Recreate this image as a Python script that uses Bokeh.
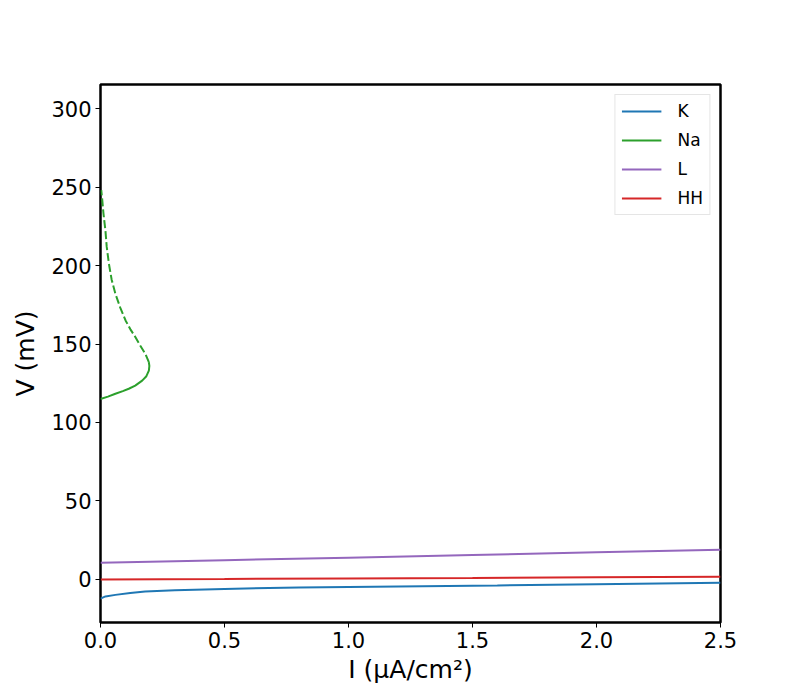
from bokeh.plotting import figure
from bokeh.models import Range1d, FixedTicker, Legend, LegendItem
from bokeh.embed import file_html
from bokeh.resources import INLINE

# K curve
k_I = [0.0, 0.02, 0.06, 0.12, 0.18, 0.3, 0.5, 0.8, 1.2, 1.6, 2.0, 2.5]
k_V = [-12.2, -10.8, -9.8, -8.6, -7.7, -6.9, -6.0, -5.1, -4.4, -3.8, -3.0, -2.1]

# Na curve, stable (solid) branch
na_I = [0.0, 0.03, 0.06, 0.09, 0.114, 0.14, 0.168, 0.185, 0.195, 0.197, 0.195]
na_V = [115.0, 116.5, 118.3, 120.0, 121.5, 123.5, 126.7, 129.5, 133.0, 136.0, 138.4]

# Na curve, unstable (dashed) branch
na2_I = [0.195, 0.181, 0.16, 0.141, 0.12, 0.101, 0.08, 0.06, 0.045, 0.034,
         0.025, 0.02, 0.012, 0.007, 0.003]
na2_V = [138.4, 143.7, 149.0, 154.3, 159.5, 165.0, 173.0, 182.0, 191.0, 201.0,
         212.0, 222.0, 233.0, 242.0, 248.0]

# Leak
l_I = [0.0, 0.5, 1.0, 1.5, 2.0, 2.5]
l_V = [10.6, 12.3, 13.9, 15.6, 17.3, 18.9]

# HH
hh_I = [0.0, 0.5, 1.0, 1.5, 2.0, 2.5]
hh_V = [0.0, 0.3, 0.7, 1.0, 1.4, 1.7]

x_ticks = [0.0, 0.5, 1.0, 1.5, 2.0, 2.5]
y_ticks = [0, 50, 100, 150, 200, 250, 300]

FONT = "DejaVu Sans"

p = figure(frame_width=620, frame_height=538,
           min_border_left=100, min_border_right=72,
           min_border_top=84, min_border_bottom=70,
           output_backend="svg", toolbar_location=None,
           x_range=Range1d(0, 2.5), y_range=Range1d(-27.4, 315.3))

p.xgrid.visible = False
p.ygrid.visible = False
p.outline_line_color = "black"
p.outline_line_width = 2.5
p.background_fill_color = "white"
p.border_fill_color = "white"

for ax in (p.xaxis[0], p.yaxis[0]):
    ax.axis_line_color = None
    ax.major_tick_out = 5
    ax.major_tick_in = 0
    ax.minor_tick_out = 0
    ax.minor_tick_in = 0
    ax.major_tick_line_color = "black"
    ax.major_tick_line_width = 1
    ax.major_label_standoff = 4
    ax.major_label_text_font = FONT
    ax.major_label_text_font_size = "21px"
    ax.major_label_text_color = "black"
    ax.axis_label_text_font = FONT
    ax.axis_label_text_font_size = "25px"
    ax.axis_label_text_font_style = "normal"
    ax.axis_label_text_color = "black"

p.xaxis.ticker = FixedTicker(ticks=x_ticks)
p.yaxis.ticker = FixedTicker(ticks=y_ticks)
p.xaxis.major_label_overrides = {t: f"{t:.1f}" for t in x_ticks}
p.yaxis.major_label_overrides = {t: str(t) for t in y_ticks}
p.xaxis.axis_label = "I (μA/cm²)"
p.yaxis.axis_label = "V (mV)"
p.xaxis.axis_label_standoff = 4
p.yaxis.axis_label_standoff = 8

rk = p.line(k_I, k_V, line_color="#1f77b4", line_width=2)
rna = p.line(na_I, na_V, line_color="#2ca02c", line_width=2)
p.line(na2_I, na2_V, line_color="#2ca02c", line_width=2, line_dash="8 3")
rl = p.line(l_I, l_V, line_color="#9467bd", line_width=2)
rhh = p.line(hh_I, hh_V, line_color="#d62728", line_width=2)

legend = Legend(items=[LegendItem(label="K", renderers=[rk]),
                       LegendItem(label="Na", renderers=[rna]),
                       LegendItem(label="L", renderers=[rl]),
                       LegendItem(label="HH", renderers=[rhh])],
                location="top_right")
legend.label_text_font = FONT
legend.label_text_font_size = "17px"
legend.label_text_color = "black"
legend.glyph_width = 40
legend.glyph_height = 20
legend.label_height = 20
legend.label_standoff = 16
legend.spacing = 9
legend.padding = 6
legend.margin = 10
legend.border_line_color = "#cccccc"
legend.border_line_width = 1
legend.background_fill_alpha = 0.8
p.add_layout(legend)

open("out.html", "w").write(file_html(p, INLINE))
